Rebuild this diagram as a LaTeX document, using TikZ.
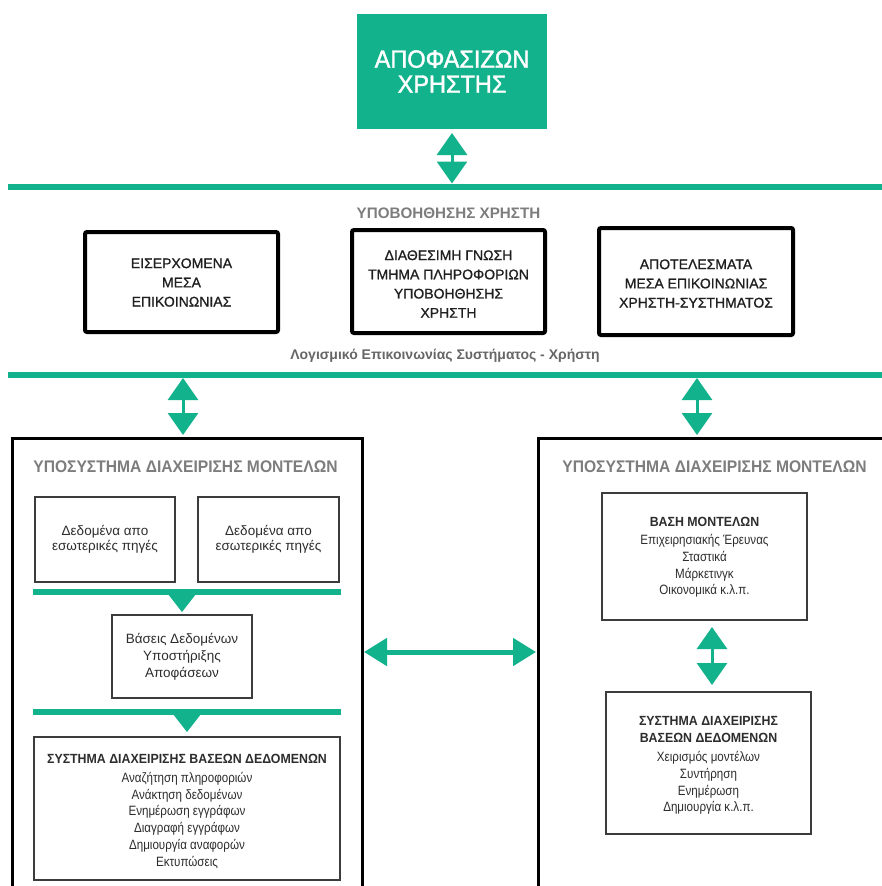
\documentclass[tikz,border=0pt]{standalone}
\usepackage{fontspec}
\setmainfont{Liberation Sans}
\newfontfamily\condfont{Liberation Sans}[FakeStretch=0.86]
\newfontfamily\capfont{Liberation Sans}[FakeStretch=0.93]
\newfontfamily\medfont{Liberation Sans}[FakeStretch=0.94,FakeBold=1.6]
\newfontfamily\semifont{Liberation Sans}[FakeBold=0.9]
\usetikzlibrary{arrows.meta,calc}

\definecolor{dsgreen}{RGB}{18,178,140}
\definecolor{capgray}{RGB}{125,125,125}
\definecolor{ink}{RGB}{45,45,45}
\definecolor{thinline}{RGB}{60,60,60}
\newcommand\boxheadfont{\capfont\bfseries\fontsize{13.3}{17}\selectfont}

\begin{document}
\begin{tikzpicture}[x=1pt,y=-1pt,
  every node/.style={inner sep=0pt,outer sep=0pt},
  bus/.style={draw=dsgreen,line width=6pt},
  dbl/.style={draw=dsgreen,line width=3pt,
    {Triangle[length=22pt,width=30pt]}-{Triangle[length=22pt,width=30pt]}},
  hdbl/.style={draw=dsgreen,line width=5pt,
    {Triangle[length=23pt,width=27pt]}-{Triangle[length=23pt,width=27pt]}},
  topbox/.style={fill=dsgreen,text=white,align=center,
    font=\medfont\fontsize{25}{25}\selectfont,
    minimum width=190pt,minimum height=115pt},
  heavybox/.style={draw=black,line width=4pt,rounded corners=2pt},
  heavytext/.style={align=center,text=black!88,font=\semifont\fontsize{14}{19.2}\selectfont},
  headtext/.style={text=capgray,font=\bfseries\fontsize{15.2}{15.2}\selectfont},
  captext/.style={text=black!60,font=\bfseries\fontsize{14}{14}\selectfont},
  panel/.style={draw=black,line width=3pt,anchor=north west},
  paneltitle/.style={text=capgray,font=\capfont\bfseries\fontsize{16.8}{16.8}\selectfont},
  thinbox/.style={draw=thinline,line width=1.4pt},
  srctext/.style={align=center,text=ink,font=\fontsize{13.5}{15.5}\selectfont},
  listtext/.style={align=center,text=ink,font=\condfont\fontsize{13.5}{16.8}\selectfont}
]
\useasboundingbox (0,0) rectangle (882,886);
\clip (0,0) rectangle (882,886);
\fill[white] (0,0) rectangle (882,886);

% decision maker and the upper bus
\node[topbox] (dec) at (452,71.5) {ΑΠΟΦΑΣΙΖΩΝ\\ΧΡΗΣΤΗΣ};
\coordinate (busAw) at (8,186.5);
\coordinate (busAe) at (882,186.5);
\draw[bus] (busAw) -- (busAe);
\draw[dbl] ($(dec.south)+(0,4)$) -- ($(dec.south |- busAw)+(0,-3)$);

% user support layer
\node[headtext] (hdr) at (448.5,213) {ΥΠΟΒΟΗΘΗΣΗΣ ΧΡΗΣΤΗ};
\node[heavybox,minimum width=193pt,minimum height=100pt] (inmedia) at (181.5,282) {};
\node[heavytext] (inmediatxt) at ($(inmedia.center)+(0,0.5)$)
  {ΕΙΣΕΡΧΟΜΕΝΑ\\ΜΕΣΑ\\ΕΠΙΚΟΙΝΩΝΙΑΣ};
\node[heavybox,minimum width=193pt,minimum height=103pt] (know) at (448.5,281.5) {};
\node[heavytext] (knowtxt) at ($(know.center)+(0,2.5)$)
  {ΔΙΑΘΕΣΙΜΗ ΓΝΩΣΗ\\ΤΜΗΜΑ ΠΛΗΡΟΦΟΡΙΩΝ\\ΥΠΟΒΟΗΘΗΣΗΣ\\ΧΡΗΣΤΗ};
\node[heavybox,minimum width=194pt,minimum height=107pt] (outmedia) at (696,281.5) {};
\node[heavytext] (outmediatxt) at ($(outmedia.center)+(0,2)$)
  {ΑΠΟΤΕΛΕΣΜΑΤΑ\\ΜΕΣΑ ΕΠΙΚΟΙΝΩΝΙΑΣ\\ΧΡΗΣΤΗ-ΣΥΣΤΗΜΑΤΟΣ};
\node[captext] (soft) at (445,356) {Λογισμικό Επικοινωνίας Συστήματος - Χρήστη};

% lower bus
\coordinate (busBw) at (8,375);
\coordinate (busBe) at (882,375);
\draw[bus] (busBw) -- (busBe);

% the two subsystem panels
\node[panel,minimum width=350pt,minimum height=480pt] (lpanel) at (12,438) {};
\node[panel,minimum width=400pt,minimum height=480pt] (rpanel) at (538,438) {};
\draw[dbl] ($(busBw -| 183,0)+(0,3)$) -- ($(lpanel.north -| 183,0)+(0,-3)$);
\draw[dbl] ($(busBw -| 697,0)+(0,3)$) -- ($(rpanel.north -| 697,0)+(0,-3)$);
\node[paneltitle] (lptitle) at (185.5,467) {ΥΠΟΣΥΣΤΗΜΑ ΔΙΑΧΕΙΡΙΣΗΣ ΜΟΝΤΕΛΩΝ};
\node[paneltitle] (rptitle) at (714.5,467) {ΥΠΟΣΥΣΤΗΜΑ ΔΙΑΧΕΙΡΙΣΗΣ ΜΟΝΤΕΛΩΝ};

% left panel: data sources, database, DBMS
\node[thinbox,minimum width=140pt,minimum height=85pt] (srcA) at (105,539.5) {};
\node[srctext] (srcAtxt) at (srcA.center) {Δεδομένα απο\\εσωτερικές πηγές};
\node[thinbox,minimum width=141pt,minimum height=85pt] (srcB) at (268.5,539.5) {};
\node[srctext] (srcBtxt) at (srcB.center) {Δεδομένα απο\\εσωτερικές πηγές};
\coordinate (barAw) at (33,592);
\coordinate (barAe) at (341,592);
\draw[bus] (barAw) -- (barAe);
\node[thinbox,minimum width=140pt,minimum height=83pt] (dss) at (182,656.5) {};
\node[srctext,font=\fontsize{13.5}{17}\selectfont] (dsstxt) at (dss.center)
  {Βάσεις Δεδομένων\\Υποστήριξης\\Αποφάσεων};
\fill[dsgreen] ($(dss.north)+(-14,-21)$) -- ($(dss.north)+(14,-21)$)
  -- ($(dss.north)+(0,-3)$) -- cycle;
\coordinate (barBw) at (33,712);
\coordinate (barBe) at (341,712);
\draw[bus] (barBw) -- (barBe);
\node[thinbox,minimum width=306pt,minimum height=143pt] (dbms) at (187,808.5) {};
\node[listtext] (dbmstxt) at ($(dbms.center)+(0,3)$)
  {{\boxheadfont ΣΥΣΤΗΜΑ ΔΙΑΧΕΙΡΙΣΗΣ ΒΑΣΕΩΝ ΔΕΔΟΜΕΝΩΝ}\\[2pt]
   Αναζήτηση πληροφοριών\\Ανάκτηση δεδομένων\\Ενημέρωση εγγράφων\\
   Διαγραφή εγγράφων\\Δημιουργία αναφορών\\Εκτυπώσεις};
\fill[dsgreen] ($(dbms.north)+(-14,-23)$) -- ($(dbms.north)+(14,-23)$)
  -- ($(dbms.north)+(0,-5)$) -- cycle;

% link between the two panels
\draw[hdbl] ($(lpanel.north east)+(2,214)$) -- ($(rpanel.north west)+(-2,214)$);

% right panel: model base and its management system
\node[thinbox,minimum width=205pt,minimum height=127pt] (mbase) at (704.5,556.5) {};
\node[listtext] (mbasetxt) at ($(mbase.center)+(0,1)$)
  {{\boxheadfont ΒΑΣΗ ΜΟΝΤΕΛΩΝ}\\[1pt]
   Επιχειρησιακής Έρευνας\\Σταστικά\\Μάρκετινγκ\\Οικονομικά κ.λ.π.};
\node[thinbox,minimum width=205pt,minimum height=142pt] (mdbms) at (708.5,763) {};
\node[listtext] (mdbmstxt) at ($(mdbms.center)+(0,2.5)$)
  {{\boxheadfont ΣΥΣΤΗΜΑ ΔΙΑΧΕΙΡΙΣΗΣ}\\{\boxheadfont ΒΑΣΕΩΝ ΔΕΔΟΜΕΝΩΝ}\\[2.5pt]
   Χειρισμός μοντέλων\\Συντήρηση\\Ενημέρωση\\Δημιουργία κ.λ.π.};
\draw[dbl] ($(mbase.south)+(7.5,7)$) -- ($(mbase.south)+(7.5,65)$);
\end{tikzpicture}
\end{document}
